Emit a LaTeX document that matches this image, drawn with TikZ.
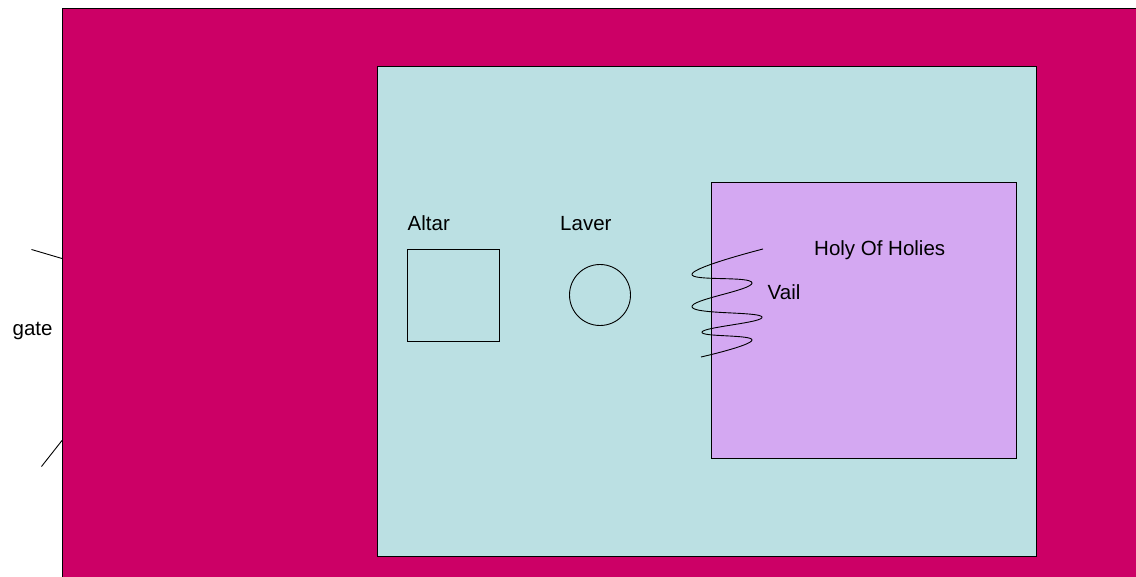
\documentclass[tikz,border=0pt]{standalone}
\usepackage{fontspec}
\setmainfont{Liberation Sans}
\usetikzlibrary{positioning}
\definecolor{courtred}{RGB}{204,0,102}
\definecolor{courtcyan}{RGB}{187,224,227}
\definecolor{holypurple}{RGB}{212,168,242}

\begin{document}
\begin{tikzpicture}[x=1pt, y=-1pt,
        every node/.style={font=\fontsize{20.5}{24}\selectfont, inner sep=0pt},
        outline/.style={draw=black, line width=1pt},
        label/.style={anchor=base west}]
        \useasboundingbox (0,0) rectangle (1136,577);
        \fill[white] (0,0) rectangle (1136,577);

        % court, holy place, holy of holies
        \draw[outline, fill=courtred] (62,8.5) rectangle (1142,583);
        \draw[outline, fill=courtcyan] (377,67) rectangle (1036,556);
        \draw[outline, fill=holypurple] (711,183) rectangle (1016,458);

        % furniture
        \node (Altar) [draw, line width=0.9pt, minimum size=92pt, anchor=north west] at (407,249) {};
        \node (Laver) [draw, circle, line width=0.9pt, minimum size=61pt] at (600,295) {};
        \node (AltarLbl) [label] at (407.5,231) {Altar};
        \node (LaverLbl) [label] at (560,231) {Laver};
        \node (HolyLbl) [label] at (814,256) {Holy Of Holies};
        \node (VailLbl) [label] at (767.5,300) {Vail};
        \node (GateLbl) [label] at (12.5,336) {gate};

        % vail
        \draw[line width=0.9pt] plot[smooth, tension=0.8] coordinates {
            (763,249) (692,274) (752,283) (692,307) (762,317) (702,332) (752,340) (701,357)};

        % gate posts
        \coordinate (GateTopOut) at (31.5,249.5);
        \coordinate (GateTop) at (62,258.5);
        \coordinate (GateBotOut) at (41.5,466.5);
        \coordinate (GateBot) at (62,440.5);
        \draw[line width=0.9pt] (GateTopOut) -- (GateTop);
        \draw[line width=0.9pt] (GateBotOut) -- (GateBot);
\end{tikzpicture}
\end{document}
